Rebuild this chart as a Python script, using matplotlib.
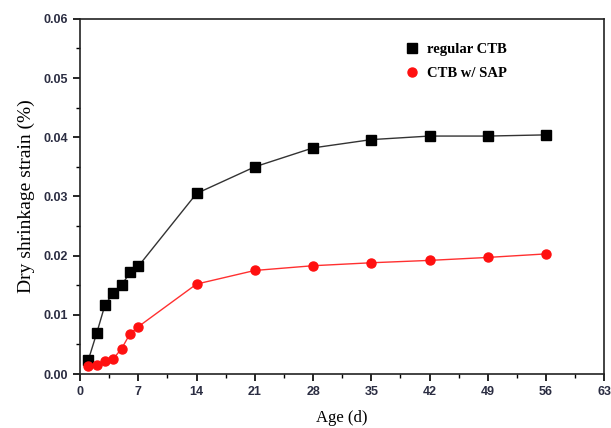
import matplotlib
matplotlib.use("Agg")
import matplotlib.pyplot as plt
from matplotlib.ticker import MultipleLocator

# Data
age_days = [1, 2, 3, 4, 5, 6, 7, 14, 21, 28, 35, 42, 49, 56]
regular_ctb = [0.0024, 0.0069, 0.0117, 0.0137, 0.0150, 0.0172, 0.0182,
               0.0305, 0.0350, 0.0382, 0.0396, 0.0402, 0.0402, 0.0404]
ctb_sap = [0.0013, 0.0016, 0.0022, 0.0026, 0.0043, 0.0068, 0.0080,
           0.0152, 0.0175, 0.0183, 0.0188, 0.0192, 0.0197, 0.0203]

series_labels = ["regular CTB", "CTB w/ SAP"]
x_label = "Age (d)"
y_label = "Dry shrinkage strain (%)"

tick_color = "#2b2d42"

fig = plt.figure(figsize=(6.11, 4.28), dpi=100)
ax = fig.add_axes([0.131, 0.126, 0.858, 0.830])

ax.plot(age_days, regular_ctb, color="#333333", lw=1.0, marker="s",
        markersize=6.5, markerfacecolor="black", markeredgecolor="black",
        label=series_labels[0])
ax.plot(age_days, ctb_sap, color="#ff3030", lw=1.0, marker="o",
        markersize=6.5, markerfacecolor="#ff1010", markeredgecolor="#ff1010",
        label=series_labels[1])

ax.set_xlim(0, 63)
ax.set_ylim(0, 0.06)
ax.xaxis.set_major_locator(MultipleLocator(7))
ax.xaxis.set_minor_locator(MultipleLocator(3.5))
ax.yaxis.set_major_locator(MultipleLocator(0.01))
ax.yaxis.set_minor_locator(MultipleLocator(0.005))
ax.yaxis.set_major_formatter(plt.FormatStrFormatter("%.2f"))

ax.tick_params(which="major", direction="out", length=5, width=1.2,
               top=False, right=False, labelsize=9, labelcolor=tick_color)
ax.tick_params(which="minor", direction="out", length=3, width=1.0,
               top=False, right=False)
for lab in ax.get_xticklabels() + ax.get_yticklabels():
    lab.set_fontweight("bold")
    lab.set_family("Liberation Sans")

for sp in ax.spines.values():
    sp.set_linewidth(1.2)
    sp.set_color("#222222")

ax.set_xlabel(x_label, family="Liberation Serif", fontsize=12, labelpad=9)
ax.set_ylabel(y_label, family="Liberation Serif", fontsize=14, labelpad=6)

leg = ax.legend(loc="upper left", bbox_to_anchor=(0.595, 0.97), frameon=False,
                handlelength=1.0, handletextpad=0.5, labelspacing=0.75,
                prop={"family": "Liberation Serif", "weight": "bold", "size": 10.5})
for h in leg.legend_handles:
    h.set_linestyle("")

fig.savefig("out.png", dpi=100)
